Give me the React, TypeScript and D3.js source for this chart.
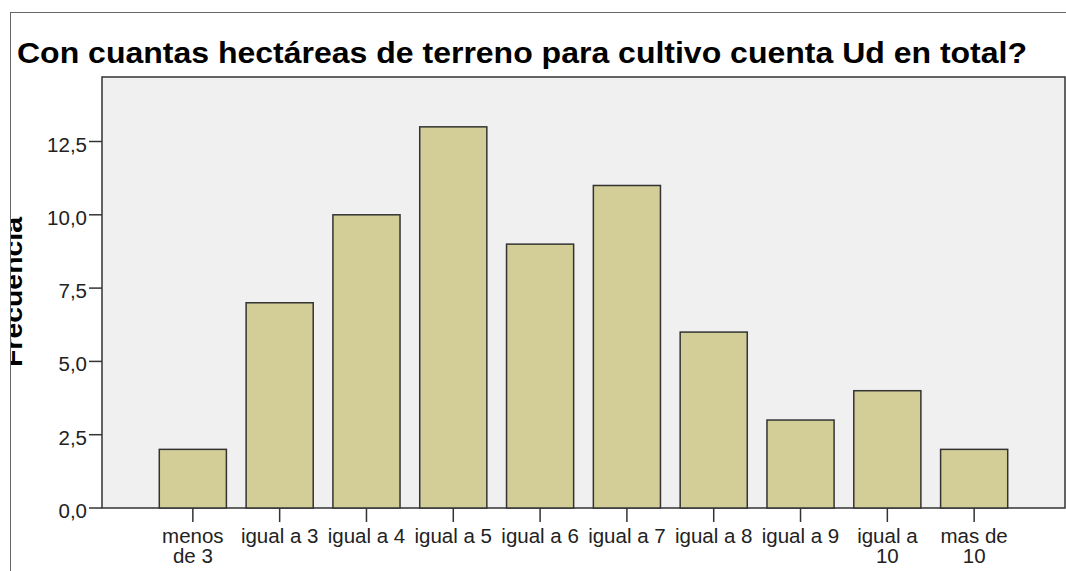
import React from "react";
import * as d3 from "d3";

const categories = ["menos de 3", "igual a 3", "igual a 4", "igual a 5", "igual a 6", "igual a 7", "igual a 8", "igual a 9", "igual a 10", "mas de 10"];
const categoryLines = [["menos", "de 3"], ["igual a 3"], ["igual a 4"], ["igual a 5"], ["igual a 6"], ["igual a 7"], ["igual a 8"], ["igual a 9"], ["igual a", "10"], ["mas de", "10"]];
const frequencies = [2, 7, 10, 13, 9, 11, 6, 3, 4, 2];
const yTicks = [0, 2.5, 5, 7.5, 10, 12.5];
const title = "Con cuantas hectáreas de terreno para cultivo cuenta Ud en total?";
const yLabel = "Frecuencia";

export default function App() {
  const W = 1066, H = 571;
  const plot = { left: 102, top: 77, right: 1065, bottom: 508 };
  const x = d3.scaleBand<string>().domain(categories).range([plot.left, plot.right]).paddingInner(0.227).paddingOuter(0.66);
  const y = d3.scaleLinear().domain([0, 14.7]).range([plot.bottom, plot.top]);
  const fmt = (v: number) => d3.format(".1f")(v).replace(".", ",");
  const font = "'Liberation Sans', Arial, sans-serif";
  return (
    <svg width={W} height={H} style={{ position: "absolute", left: 0, top: 0, background: "#fff" }} fontFamily={font}>
      <defs>
        <clipPath id="frameClip"><rect x={11} y={13} width={W} height={H} /></clipPath>
      </defs>
      <rect x={10.5} y={12.5} width={W} height={H} fill="#fff" stroke="#666" strokeWidth={1} />
      <g clipPath="url(#frameClip)">
        <text x={17} y={63} fontSize={29} fontWeight="bold" fill="#000" textLength={1010} lengthAdjust="spacingAndGlyphs">{title}</text>
        <text transform={`translate(22,292) rotate(-90)`} textAnchor="middle" fontSize={26} fontWeight="bold" fill="#000" textLength={150} lengthAdjust="spacingAndGlyphs">{yLabel}</text>
      </g>
      <rect x={plot.left} y={plot.top} width={plot.right - plot.left} height={plot.bottom - plot.top} fill="#f0f0f0" stroke="#333" strokeWidth={1.5} />
      {frequencies.map((v, i) => (
        <rect key={i} x={x(categories[i])!} y={y(v)} width={x.bandwidth()} height={y(0) - y(v)} fill="#d3ce97" stroke="#333" strokeWidth={1.5} />
      ))}
      {yTicks.map((t) => (
        <g key={t}>
          <line x1={plot.left - 13} x2={plot.left} y1={y(t)} y2={y(t)} stroke="#333" strokeWidth={1.5} />
          <text x={plot.left - 15} y={y(t) + 10} textAnchor="end" fontSize={20.5} fill="#222">{fmt(t)}</text>
        </g>
      ))}
      {categories.map((c, i) => {
        const cx = x(c)! + x.bandwidth() / 2;
        return (
          <g key={c}>
            <line x1={cx} x2={cx} y1={plot.bottom} y2={plot.bottom + 14} stroke="#333" strokeWidth={1.5} />
            {categoryLines[i].map((ln, j) => (
              <text key={j} x={cx} y={543 + j * 20} textAnchor="middle" fontSize={20.5} fill="#222">{ln}</text>
            ))}
          </g>
        );
      })}
    </svg>
  );
}
